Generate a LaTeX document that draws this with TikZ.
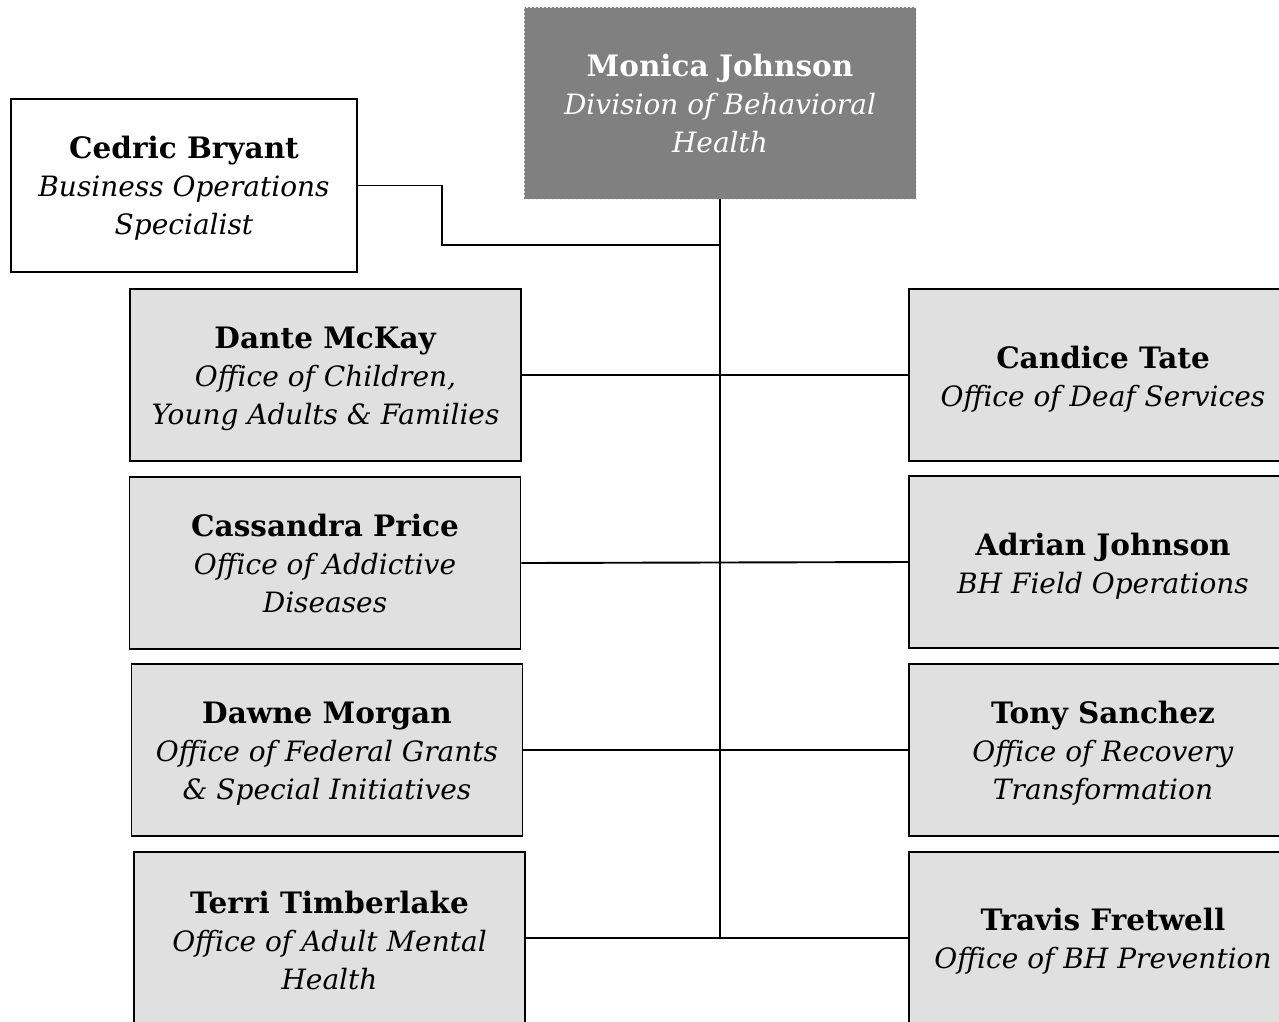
\documentclass[tikz,border=0pt]{standalone}
\usepackage{fontspec}
\setmainfont{DejaVu Serif}
\newcommand{\nm}[1]{{\fontsize{29.5}{38}\selectfont\textbf{#1}}}
\newcommand{\txt}[2]{\raisebox{#1}[\height][\depth]{\begin{tabular}{@{}c@{}}#2\end{tabular}}}
\begin{document}
\begin{tikzpicture}[x=1pt,y=-1pt,
  box/.style={draw=black,line width=1.9pt,align=center,inner sep=0pt,
    font=\fontsize{28}{38}\selectfont},
  office/.style={box,fill=black!12,minimum width=391pt,minimum height=172pt},
  link/.style={line width=1.9pt},
]
\useasboundingbox (0,0) rectangle (1279,1021);
\clip (0,0) rectangle (1279,1021);
\node[box,fill=black!50,draw=white!85!gray,line width=0.8pt,dash pattern=on 2pt off 2pt,
  text=white,minimum width=392pt,minimum height=192pt] (top) at (720,103)
  {\txt{-4pt}{\nm{Monica Johnson}\\\textit{Division of Behavioral}\\\textit{Health}}};
\node[box,fill=white,minimum width=346pt,minimum height=173pt] (cedric) at (184,185.5)
  {\txt{-3pt}{\nm{Cedric Bryant}\\\textit{Business Operations}\\\textit{Specialist}}};
\node[office] (dante) at (325.5,375)
  {\txt{-4pt}{\nm{Dante McKay}\\\textit{Office of Children,}\\\textit{Young Adults \& Families}}};
\node[office] (cassandra) at (325,563)
  {\txt{-3.5pt}{\nm{Cassandra Price}\\\textit{Office of Addictive}\\\textit{Diseases}}};
\node[office] (dawne) at (327,750)
  {\txt{-4pt}{\nm{Dawne Morgan}\\\textit{Office of Federal Grants}\\\textit{\& Special Initiatives}}};
\node[office] (terri) at (329.5,938)
  {\txt{-5.5pt}{\nm{Terri Timberlake}\\\textit{Office of Adult Mental}\\\textit{Health}}};
\node[office,minimum width=388pt] (candice) at (1103,375)
  {\txt{-4.5pt}{\nm{Candice Tate}\\\textit{Office of Deaf Services}}};
\node[office,minimum width=388pt] (adrian) at (1103,562)
  {\txt{-4.5pt}{\nm{Adrian Johnson}\\\textit{BH Field Operations}}};
\node[office,minimum width=388pt] (tony) at (1103,750)
  {\txt{-4pt}{\nm{Tony Sanchez}\\\textit{Office of Recovery}\\\textit{Transformation}}};
\node[office,minimum width=388pt] (travis) at (1103,938)
  {\txt{-4pt}{\nm{Travis Fretwell}\\\textit{Office of BH Prevention}}};
\coordinate (trunkend) at (720,938);
\coordinate (tee) at (720,245);
\draw[line width=2.6pt] (top.south) -- (trunkend);
\draw[link] (cedric.east) -- ++(84,0) |- (tee);
\draw[link] (dante.east) -- (candice.west);
\draw[link] (cassandra.east) -- (adrian.west);
\draw[link] (dawne.east) -- (tony.west);
\draw[link] (terri.east) -- (travis.west);
\end{tikzpicture}
\end{document}
